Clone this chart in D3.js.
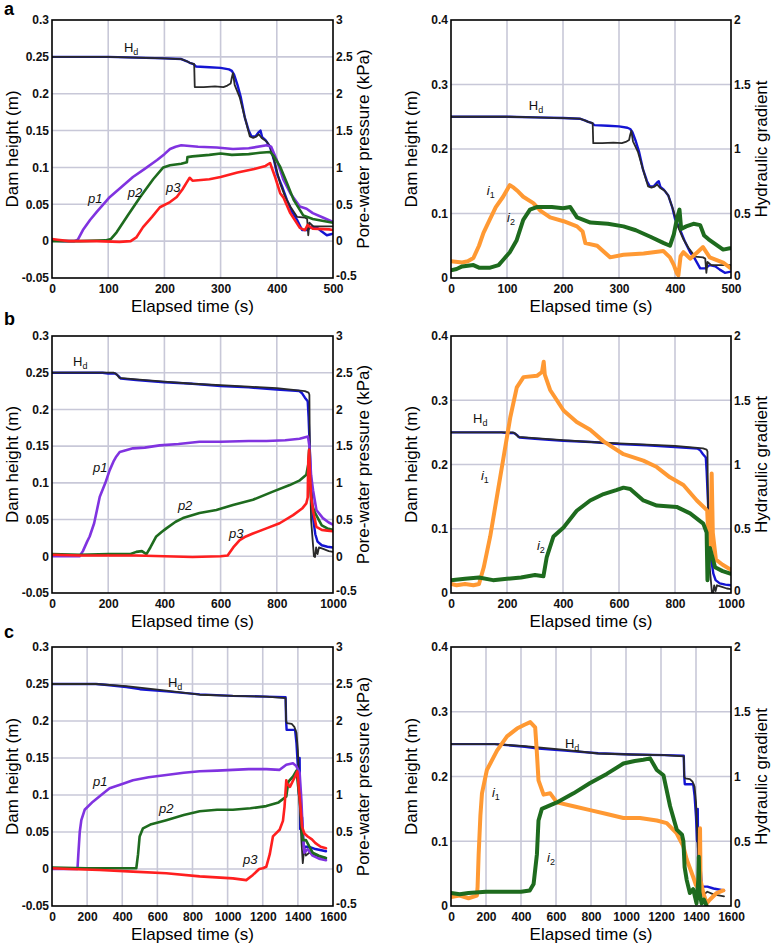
<!DOCTYPE html>
<html><head><meta charset="utf-8">
<script src="https://cdn.jsdelivr.net/npm/d3@7"></script>
<style>body{margin:0;background:#fff} svg{display:block} text{font-family:"Liberation Sans",Arial,sans-serif}</style>
</head><body><svg id="c" width="778" height="945"></svg>
<script>
// ---------- tick labels ----------
const leftTicksM = [-0.05,0,0.05,0.1,0.15,0.2,0.25,0.3];
const pressureTicks = [-0.5,0,0.5,1,1.5,2,2.5,3];
const rightTicksM = [0,0.1,0.2,0.3,0.4];
const gradientTicks = [0,0.5,1,1.5,2];
const timeTicksA = [0,100,200,300,400,500];
const timeTicksB = [0,200,400,600,800,1000];
const timeTicksC = [0,200,400,600,800,1000,1200,1400,1600];

// ---------- test a ----------
const aHdBlue = [[0,0.25],[100,0.25],[150,0.249],[200,0.248],[230,0.247],[240,0.244],[245,0.242],[252,0.24],[256,0.237],[280,0.236],[300,0.235],[315,0.233],[320,0.231],[324,0.226],[330,0.212],[336,0.195],[343,0.168],[350,0.15],[355,0.142],[362,0.142],[368,0.148],[371,0.15],[374,0.141],[380,0.137],[388,0.128],[395,0.11],[400,0.092],[409,0.075],[418,0.056],[427,0.04],[436,0.029],[445,0.015],[454,0.015],[462,0.02],[472,0.018],[480,0.013],[489,0.008],[500,0.01]];
const aHdBlack = [[0,0.25],[100,0.25],[150,0.249],[200,0.248],[230,0.247],[240,0.244],[245,0.242],[253,0.24],[254,0.209],[270,0.209],[290,0.21],[305,0.209],[312,0.211],[318,0.214],[320,0.222],[322,0.228],[325,0.212],[334,0.195],[343,0.168],[352,0.142],[358,0.14],[364,0.142],[368,0.145],[373,0.14],[382,0.135],[388,0.128],[397,0.105],[406,0.078],[415,0.06],[424,0.047],[436,0.033],[450,0.032],[454,0.03],[456,0.008],[458,0.025],[465,0.02],[500,0.02]];
const aP1 = [[0,0.01],[20,0],[40,0],[46,0.02],[55,0.15],[68,0.29],[80,0.4],[103,0.6],[120,0.71],[144,0.87],[165,0.98],[187,1.1],[200,1.18],[210,1.25],[220,1.28],[230,1.3],[260,1.28],[293,1.27],[322,1.25],[350,1.26],[382,1.3],[390,1.28],[400,1.1],[412,0.83],[424,0.65],[441,0.47],[453,0.44],[464,0.38],[482,0.32],[500,0.26]];
const aP2 = [[0,0],[50,0],[95,0.01],[105,0.03],[115,0.12],[135,0.35],[157,0.6],[180,0.84],[198,1.0],[210,1.03],[230,1.05],[240,1.07],[241,1.14],[250,1.15],[280,1.17],[300,1.19],[320,1.17],[350,1.18],[370,1.2],[388,1.21],[395,1.15],[406,1.01],[418,0.79],[430,0.56],[447,0.35],[464,0.3],[500,0.25]];
const aP3 = [[0,0.03],[10,0.02],[30,0],[80,0],[120,-0.01],[140,0],[150,0.05],[162,0.19],[178,0.33],[192,0.46],[210,0.53],[222,0.6],[232,0.7],[240,0.8],[245,0.86],[250,0.82],[280,0.84],[300,0.87],[330,0.93],[360,0.98],[380,1.02],[388,1.06],[397,0.87],[406,0.65],[412,0.59],[424,0.38],[441,0.18],[450,0.15],[455,0.22],[458,0.2],[464,0.17],[493,0.16],[500,0.15]];
const aI1 = [[0,0.13],[20,0.12],[30,0.13],[40,0.155],[50,0.25],[58,0.35],[69,0.45],[80,0.55],[93,0.63],[105,0.72],[112,0.7],[120,0.67],[129,0.63],[147,0.58],[160,0.52],[177,0.47],[201,0.44],[225,0.4],[235,0.36],[240,0.27],[261,0.25],[284,0.16],[308,0.18],[344,0.19],[379,0.21],[391,0.16],[398,0.1],[403,0.04],[406,0.02],[410,0.17],[415,0.2],[427,0.15],[440,0.2],[450,0.24],[462,0.16],[486,0.12],[498,0.08]];
const aI2 = [[0,0.06],[10,0.07],[20,0.09],[40,0.1],[50,0.08],[70,0.08],[85,0.1],[93,0.14],[105,0.2],[117,0.29],[129,0.45],[141,0.53],[153,0.55],[180,0.55],[200,0.54],[213,0.55],[225,0.47],[249,0.43],[280,0.42],[308,0.4],[330,0.37],[356,0.32],[380,0.27],[391,0.25],[398,0.34],[403,0.45],[408,0.53],[411,0.38],[420,0.4],[433,0.42],[445,0.41],[452,0.33],[460,0.3],[486,0.22],[498,0.23]];

// ---------- test b ----------
const bHdBlue = [[0,0.25],[180,0.25],[200,0.249],[225,0.249],[235,0.246],[245,0.242],[300,0.24],[400,0.237],[500,0.235],[600,0.232],[700,0.23],[800,0.227],[880,0.225],[890,0.222],[900,0.216],[910,0.211],[913,0.19],[916,0.16],[920,0.12],[925,0.08],[930,0.05],[937,0.03],[945,0.02],[960,0.015],[980,0.013],[1000,0.012]];
const bHdBlack = [[0,0.25],[220,0.25],[230,0.248],[240,0.243],[300,0.241],[400,0.238],[500,0.235],[600,0.233],[700,0.231],[800,0.229],[900,0.225],[913,0.223],[916,0.22],[918,0.12],[922,0.05],[928,0.02],[932,0.0],[936,-0.001],[940,0.012],[945,0.003],[950,0.012],[965,0.01],[985,0.007],[1000,0.006]];
const bP1 = [[0,0],[50,0],[98,0],[110,0.07],[125,0.2],[134,0.27],[150,0.45],[170,0.81],[190,1.0],[205,1.17],[220,1.3],[229,1.36],[241,1.42],[260,1.44],[288,1.47],[330,1.48],[383,1.51],[450,1.53],[525,1.56],[600,1.56],[700,1.57],[763,1.57],[830,1.58],[881,1.6],[911,1.63],[916,1.5],[922,1.1],[929,0.9],[941,0.63],[964,0.52],[985,0.46],[1000,0.43]];
const bP2 = [[0,0.03],[100,0.02],[200,0.03],[280,0.03],[300,0.06],[320,0.07],[336,0.03],[350,0.12],[371,0.27],[390,0.33],[407,0.38],[440,0.47],[466,0.52],[525,0.59],[585,0.63],[644,0.7],[715,0.77],[786,0.88],[846,0.97],[880,1.03],[905,1.11],[912,1.25],[915,1.45],[918,1.0],[925,0.7],[936,0.59],[960,0.42],[980,0.38],[1000,0.36]];
const bP3 = [[0,0.02],[100,0.01],[200,0.01],[300,0.01],[400,0],[500,-0.01],[600,0],[625,0.01],[645,0.12],[668,0.22],[690,0.27],[715,0.31],[763,0.38],[810,0.45],[858,0.56],[890,0.65],[905,0.72],[910,0.8],[912,1.3],[915,1.45],[918,1.1],[922,0.81],[930,0.6],[941,0.4],[960,0.36],[980,0.35],[1000,0.34]];
const bI1 = [[0,0.07],[20,0.06],[50,0.07],[80,0.06],[100,0.07],[117,0.2],[140,0.44],[164,0.75],[188,1.06],[212,1.37],[235,1.6],[259,1.68],[307,1.69],[325,1.72],[331,1.8],[335,1.7],[354,1.58],[402,1.42],[449,1.33],[497,1.27],[545,1.18],[616,1.08],[687,1.03],[735,0.98],[782,0.9],[830,0.84],[878,0.72],[907,0.66],[915,0.64],[920,0.4],[926,0.3],[931,0.93],[935,0.47],[946,0.26],[970,0.22],[1000,0.18]];
const bI2 = [[0,0.1],[50,0.11],[100,0.12],[150,0.1],[200,0.11],[250,0.12],[300,0.14],[330,0.13],[342,0.28],[366,0.44],[402,0.51],[449,0.64],[497,0.72],[545,0.77],[590,0.8],[616,0.82],[640,0.81],[687,0.72],[735,0.68],[806,0.67],[854,0.62],[901,0.54],[913,0.47],[916,0.1],[919,0.2],[925,0.35],[931,0.3],[943,0.2],[970,0.17],[1000,0.15]];

// ---------- test c ----------
const cHdBlue = [[0,0.25],[250,0.25],[300,0.249],[423,0.246],[500,0.243],[651,0.24],[841,0.236],[1030,0.234],[1220,0.233],[1330,0.232],[1333,0.2],[1336,0.188],[1384,0.188],[1392,0.17],[1400,0.138],[1406,0.1],[1410,0.15],[1413,0.054],[1420,0.07],[1424,0.07],[1433,0.03],[1465,0.03],[1500,0.027],[1560,0.024]];
const cHdBlack = [[0,0.25],[250,0.25],[423,0.247],[651,0.241],[841,0.2355],[1030,0.234],[1220,0.233],[1330,0.231],[1333,0.2],[1338,0.197],[1365,0.196],[1380,0.192],[1392,0.184],[1400,0.161],[1410,0.093],[1420,0.039],[1428,0.008],[1437,0.03],[1445,0.018],[1465,0.022],[1500,0.018],[1560,0.015]];
const cP1 = [[0,0],[100,0],[145,0],[150,0.2],[158,0.5],[167,0.66],[186,0.8],[233,0.91],[280,1.0],[328,1.09],[400,1.15],[461,1.2],[550,1.24],[651,1.27],[750,1.3],[841,1.32],[940,1.33],[1030,1.34],[1120,1.35],[1220,1.35],[1296,1.34],[1334,1.41],[1372,1.43],[1391,1.39],[1410,1.3],[1420,0.93],[1428,0.48],[1437,0.22],[1456,0.27],[1484,0.18],[1520,0.14],[1560,0.12]];
const cP2 = [[0,0.02],[200,0.01],[300,0.01],[400,0.01],[480,0.01],[490,0.2],[499,0.44],[518,0.55],[560,0.6],[651,0.66],[750,0.73],[841,0.78],[940,0.8],[1030,0.8],[1130,0.82],[1220,0.85],[1290,0.9],[1334,0.98],[1346,1.18],[1373,1.25],[1392,1.33],[1410,0.93],[1428,0.39],[1446,0.39],[1484,0.22],[1520,0.18],[1560,0.15]];
const cP3 = [[0,0.01],[100,0.0],[271,-0.013],[461,-0.035],[651,-0.057],[841,-0.1],[1030,-0.127],[1106,-0.15],[1144,-0.08],[1180,0],[1201,0.01],[1220,0.03],[1240,0.2],[1258,0.44],[1296,0.53],[1315,0.65],[1324,0.84],[1334,1.2],[1336,1.16],[1355,1.11],[1384,1.25],[1397,1.32],[1410,0.97],[1424,0.57],[1437,0.48],[1456,0.44],[1480,0.4],[1500,0.35],[1530,0.3],[1560,0.28]];
const cI1 = [[0,0.07],[50,0.08],[100,0.06],[148,0.08],[152,0.15],[158,0.4],[168,0.7],[177,0.87],[205,1.05],[263,1.2],[320,1.31],[377,1.37],[420,1.4],[453,1.42],[481,1.38],[490,1.2],[500,0.97],[529,0.86],[567,0.87],[605,0.8],[700,0.77],[795,0.74],[890,0.71],[985,0.68],[1080,0.68],[1176,0.66],[1233,0.64],[1290,0.56],[1328,0.46],[1347,0.36],[1385,0.22],[1400,0.16],[1413,0.14],[1420,0.3],[1423,0.6],[1426,0.2],[1442,0.1],[1461,0.02],[1480,0.05],[1518,0.1],[1556,0.12]];
const cI2 = [[0,0.1],[50,0.09],[100,0.1],[200,0.11],[300,0.11],[400,0.11],[450,0.12],[472,0.17],[491,0.4],[500,0.66],[519,0.75],[605,0.8],[700,0.87],[795,0.95],[890,1.02],[985,1.1],[1050,1.12],[1099,1.13],[1138,1.14],[1176,1.05],[1214,1.01],[1252,0.77],[1290,0.59],[1320,0.55],[1328,0.5],[1335,0.3],[1347,0.2],[1365,0.1],[1384,0.13],[1403,0.02],[1413,0.2],[1416,0.38],[1420,0.1],[1432,0.02],[1445,0.05],[1461,0.0]];

// ---------- colours ----------
const C = {blue:"#1414d2", black:"#2a2a2a", p1:"#8033e0", p2:"#1e6b1e", p3:"#ff1f1f", i1:"#ff9933", i2:"#1e6b1e"};

const svg = d3.select("#c");
const defs = svg.append("defs");
let clipId = 0;

function panel(o){
  const x = d3.scaleLinear().domain([0,o.xmax]).range([o.x0,o.x1]);
  const yl = d3.scaleLinear().domain(o.ylDom).range([o.y1,o.y0]);
  const yr = d3.scaleLinear().domain(o.yrDom).range([o.y1,o.y0]);
  const g = svg.append("g");
  // grid
  g.selectAll(".gx").data(o.xTicks.slice(1,-1)).enter().append("line")
    .attr("x1",d=>x(d)).attr("x2",d=>x(d)).attr("y1",o.y0).attr("y2",o.y1)
    .attr("stroke","#c8c8d8").attr("stroke-width",1.6);
  g.selectAll(".gy").data(o.ylTicks.slice(1,-1)).enter().append("line")
    .attr("y1",d=>yl(d)).attr("y2",d=>yl(d)).attr("x1",o.x0).attr("x2",o.x1)
    .attr("stroke","#c8c8d8").attr("stroke-width",1.6);
  // clip
  const id = "clip"+(clipId++);
  defs.append("clipPath").attr("id",id).append("rect")
    .attr("x",o.x0).attr("y",o.y0).attr("width",o.x1-o.x0).attr("height",o.y1-o.y0);
  const lines = g.append("g").attr("clip-path",`url(#${id})`);
  o.series.forEach(s=>{
    const ys = s.axis==="r"?yr:yl;
    lines.append("path").datum(s.data)
      .attr("d",d3.line().x(d=>x(d[0])).y(d=>ys(d[1])))
      .attr("fill","none").attr("stroke",s.color).attr("stroke-width",s.w)
      .attr("stroke-linejoin","round").attr("stroke-linecap","round");
  });
  // frame
  g.append("rect").attr("x",o.x0).attr("y",o.y0).attr("width",o.x1-o.x0).attr("height",o.y1-o.y0)
    .attr("fill","none").attr("stroke","#000").attr("stroke-width",1.6);
  // axes
  const fmt = d=>String(d);
  const style = sel=>{sel.select(".domain").remove();
    sel.selectAll("text").attr("font-size",12).attr("font-weight","bold").attr("fill","#111")
      .style("font-family","'Liberation Sans',Arial,sans-serif");};
  g.append("g").attr("transform",`translate(${o.x0},0)`)
    .call(d3.axisLeft(yl).tickValues(o.ylTicks).tickFormat(fmt).tickSize(0).tickPadding(3)).call(style);
  const ra = g.append("g").attr("transform",`translate(${o.x1},0)`)
    .call(d3.axisRight(yr).tickValues(o.yrTicks).tickFormat(fmt).tickSize(0).tickPadding(3)).call(style);
  ra.selectAll(".tick").filter(d=>d===o.yrDom[0]).select("text").attr("dy","0.1em");
  g.append("g").attr("transform",`translate(0,${o.y1})`)
    .call(d3.axisBottom(x).tickValues(o.xTicks).tickFormat(fmt).tickSize(0).tickPadding(6)).call(style);
  // titles
  const cy = (o.y0+o.y1)/2;
  g.append("text").attr("transform",`translate(${o.x0-34},${cy}) rotate(-90)`).attr("text-anchor","middle")
    .attr("font-size",17).text(o.ylTitle);
  g.append("text").attr("transform",`translate(${o.x1+ (o.yrTitleOff)},${cy}) rotate(-90)`).attr("text-anchor","middle")
    .attr("font-size",17).text(o.yrTitle);
  g.append("text").attr("x",(o.x0+o.x1)/2).attr("y",o.y1+34).attr("text-anchor","middle")
    .attr("font-size",17).text("Elapsed time (s)");
  // annotations
  o.labels.forEach(L=>{
    const t = g.append("text").attr("x",x(L.at[0])).attr("y",yl(L.at[1])).attr("font-size",13).attr("fill","#111");
    if(L.kind==="H"){ t.text("H"); t.append("tspan").attr("font-size",9).attr("dy",3).text("d"); }
    else if(L.kind==="p"){ t.attr("font-style","italic").text(L.text); }
    else { t.attr("font-style","italic").text("i"); t.append("tspan").attr("font-size",9).attr("dy",3).attr("font-style","normal").text(L.sub); }
  });
}

const rows = [
  {y0:20,y1:278,letter:"a",ly:15,xmax:500,xt:timeTicksA,
   hdB:aHdBlue,hdK:aHdBlack,p:[aP1,aP2,aP3],i:[aI1,aI2],
   lLab:[{kind:"H",at:[128,0.2566]},{kind:"p",text:"p1",at:[64,0.0517]},{kind:"p",text:"p2",at:[135,0.06]},{kind:"p",text:"p3",at:[203,0.0666]}],
   rLab:[{kind:"H",at:[139,0.26]},{kind:"i",sub:"1",at:[64,0.129]},{kind:"i",sub:"2",at:[100,0.087]}]},
  {y0:336,y1:593,letter:"b",ly:325,xmax:1000,xt:timeTicksB,
   hdB:bHdBlue,hdK:bHdBlack,p:[bP1,bP2,bP3],i:[bI1,bI2],
   lLab:[{kind:"H",at:[75,0.259]},{kind:"p",text:"p1",at:[146,0.115]},{kind:"p",text:"p2",at:[448,0.063]},{kind:"p",text:"p3",at:[630,0.025]}],
   rLab:[{kind:"H",at:[79,0.265]},{kind:"i",sub:"1",at:[107,0.176]},{kind:"i",sub:"2",at:[307,0.067]}]},
  {y0:647,y1:906,letter:"c",ly:638,xmax:1600,xt:timeTicksC,
   hdB:cHdBlue,hdK:cHdBlack,p:[cP1,cP2,cP3],i:[cI1,cI2],
   lLab:[{kind:"H",at:[660,0.246]},{kind:"p",text:"p1",at:[233,0.112]},{kind:"p",text:"p2",at:[609,0.0757]},{kind:"p",text:"p3",at:[1088,0.0068]}],
   rLab:[{kind:"H",at:[651,0.244]},{kind:"i",sub:"1",at:[234,0.168]},{kind:"i",sub:"2",at:[549,0.068]}]}
];

rows.forEach(r=>{
  svg.append("text").attr("x",4).attr("y",r.ly).attr("font-size",18).attr("font-weight","bold").text(r.letter);
  panel({x0:52,x1:333,y0:r.y0,y1:r.y1,xmax:r.xmax,xTicks:r.xt,
    ylDom:[-0.05,0.3],yrDom:[-0.5,3],ylTicks:leftTicksM,yrTicks:pressureTicks,
    ylTitle:"Dam height (m)",yrTitle:"Pore-water pressure (kPa)",yrTitleOff:36,
    series:[{data:r.hdB,color:C.blue,w:2.4},{data:r.hdK,color:C.black,w:1.8},
      {data:r.p[0],axis:"r",color:C.p1,w:2.6},{data:r.p[1],axis:"r",color:C.p2,w:2.6},{data:r.p[2],axis:"r",color:C.p3,w:2.6}],
    labels:r.lLab});
  panel({x0:451,x1:731,y0:r.y0,y1:r.y1,xmax:r.xmax,xTicks:r.xt,
    ylDom:[0,0.4],yrDom:[0,2],ylTicks:rightTicksM,yrTicks:gradientTicks,
    ylTitle:"Dam height (m)",yrTitle:"Hydraulic gradient",yrTitleOff:36,
    series:[{data:r.hdB,color:C.blue,w:2.4},{data:r.hdK,color:C.black,w:1.8},
      {data:r.i[0],axis:"r",color:C.i1,w:4},{data:r.i[1],axis:"r",color:C.i2,w:4}],
    labels:r.rLab});
});
</script></body></html>
